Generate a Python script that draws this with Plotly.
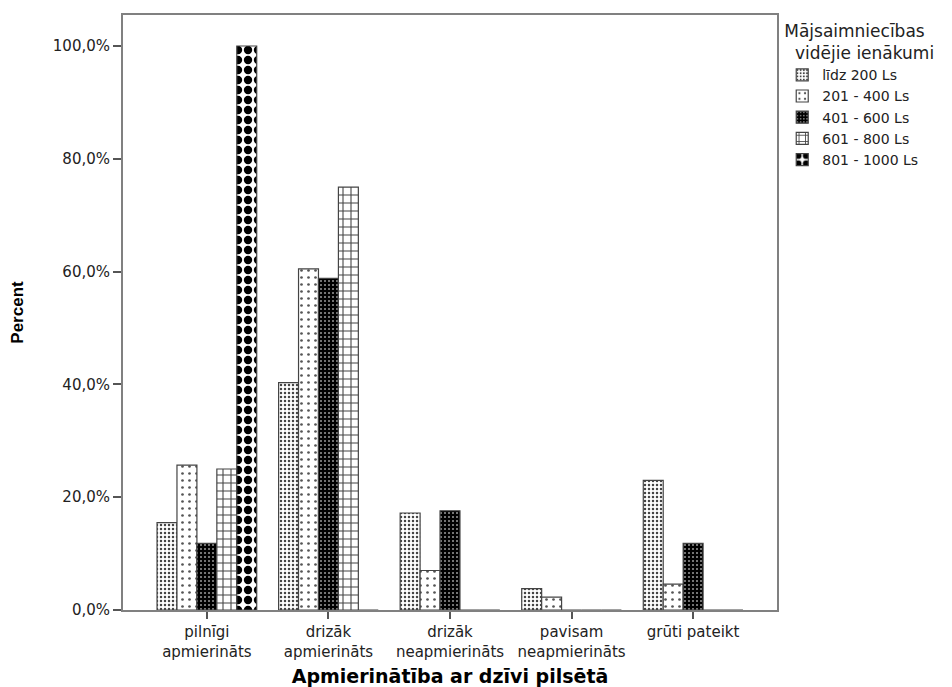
import plotly.graph_objects as go

categories = ["pilnīgi<br>apmierināts", "drizāk<br>apmierināts", "drizāk<br>neapmierināts",
              "pavisam<br>neapmierināts", "grūti pateikt"]
series_names = ["līdz 200 Ls", "201 - 400 Ls", "401 - 600 Ls", "601 - 800 Ls", "801 - 1000 Ls"]
v_200 = [15.5, 40.3, 17.2, 3.8, 23.0]
v_400 = [25.7, 60.5, 7.0, 2.3, 4.6]
v_600 = [11.8, 58.8, 17.6, 0.0, 11.8]
v_800 = [25.0, 75.0, 0.0, 0.0, 0.0]
v_1000 = [100.0, 0.0, 0.0, 0.0, 0.0]
values = [v_200, v_400, v_600, v_800, v_1000]
y_ticks = [0, 20, 40, 60, 80, 100]
y_tick_labels = ["0,0%", "20,0%", "40,0%", "60,0%", "80,0%", "100,0%"]

patterns = [
    dict(shape=".", bgcolor="white", fgcolor="#444444", fgopacity=1, size=4, solidity=0.3),
    dict(shape=".", bgcolor="white", fgcolor="#555555", fgopacity=1, size=7, solidity=0.12),
    dict(shape=".", bgcolor="black", fgcolor="#999999", fgopacity=1, size=4, solidity=0.2),
    dict(shape="+", bgcolor="white", fgcolor="#444444", fgopacity=1, size=8, solidity=0.25),
    dict(shape=".", bgcolor="white", fgcolor="black", fgopacity=1, size=10, solidity=0.55),
]

FONT = "DejaVu Sans, sans-serif"

fig = go.Figure()
for name, vals, pat in zip(series_names, values, patterns):
    fig.add_trace(go.Bar(
        x=categories, y=vals, name=name,
        marker=dict(color="white", pattern=pat, line=dict(color="#444444", width=1.2)),
    ))

# page body has an 8px margin, so the figure is sized/offset to compensate
fig.update_layout(
    width=944, height=679,
    barmode="group", bargap=0.18, bargroupgap=0,
    plot_bgcolor="white", paper_bgcolor="white",
    margin=dict(l=115, r=175, t=7, b=77),
    font=dict(family=FONT, size=15, color="#222222"),
    showlegend=True,
    legend=dict(
        x=1.008, xanchor="left", y=1.0, yanchor="top",
        title=dict(text="Mājsaimniecības<br>  vidējie ienākumi", font=dict(family=FONT, size=17)),
        font=dict(family=FONT, size=14), itemwidth=30, tracegroupgap=0,
        bgcolor="rgba(0,0,0,0)",
    ),
    xaxis=dict(
        range=[-0.69, 4.69], showline=True, linecolor="#808080", linewidth=2, mirror=True,
        ticks="outside", ticklen=7, tickcolor="#555555", tickwidth=2,
        tickfont=dict(family=FONT, size=15, color="#222222"),
        title=dict(text="<b>Apmierinātība ar dzīvi pilsētā</b>",
                   font=dict(family=FONT, size=19, color="black"), standoff=10),
        showgrid=False, automargin=False,
    ),
    yaxis=dict(
        range=[0, 105.5], showline=True, linecolor="#808080", linewidth=2, mirror=True,
        ticks="outside", ticklen=8, tickcolor="#555555", tickwidth=2,
        tickvals=y_ticks, ticktext=y_tick_labels,
        tickfont=dict(family=FONT, size=15, color="#222222"),
        title=dict(text="<b>Percent</b>",
                   font=dict(family="Liberation Sans, Arial, sans-serif", size=17, color="black"),
                   standoff=28),
        showgrid=False, zeroline=False, automargin=False,
    ),
)

fig.write_html("out.html")
